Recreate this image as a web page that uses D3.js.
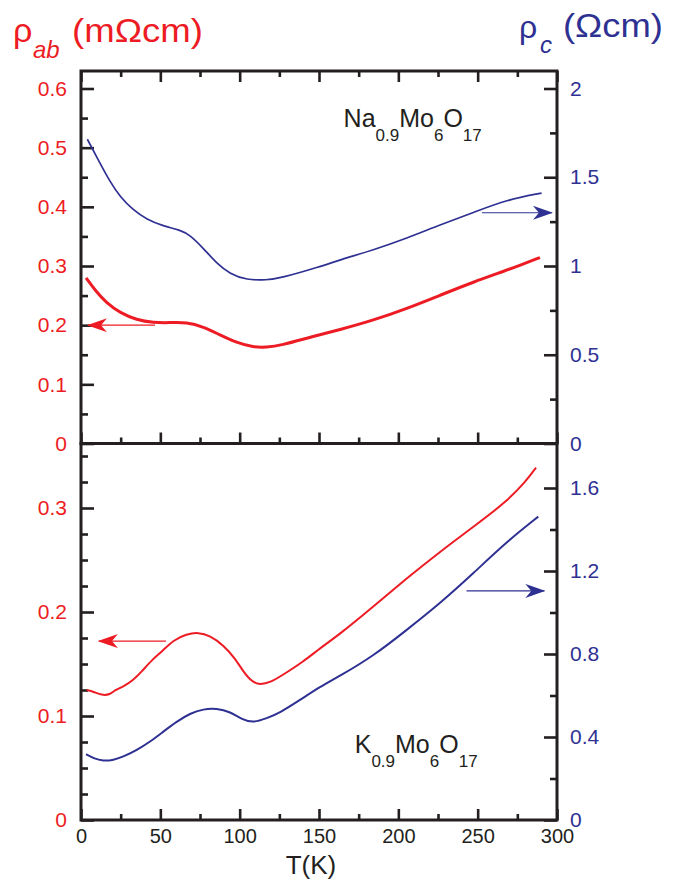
<!DOCTYPE html>
<html><head><meta charset="utf-8">
<script src="https://cdn.jsdelivr.net/npm/d3@7"></script>
<style>body{margin:0;background:#fff}svg{display:block}text{font-family:"Liberation Sans",Arial,Helvetica,sans-serif}</style>
</head><body><svg id="c" width="680" height="884"></svg>
<script>
// ---- data (T in K) ----
const naAbT = [3.2,8.8,16.2,24.6,35.1,45.6,56.1,66.6,77.1,87.6,98.1,108.6,117,125.4,146.4,163.2,184.2,205.3,226.3,247.3,268.3,277.8,289.3];
const naAbV = [0.280,0.2594,0.2369,0.221,0.2087,0.2042,0.2042,0.2053,0.1974,0.1834,0.1704,0.1626,0.1626,0.1653,0.1811,0.1924,0.2082,0.228,0.2505,0.273,0.2928,0.3025,0.3143];
const naCT = [4,12,18.3,24.6,32.9,41.4,51.9,62.4,68.7,77.1,85.5,93.9,104.4,117,125.4,150.6,163.2,184.2,205.3,226.3,247.3,268.3,290.3];
const naCV = [1.714,1.579,1.475,1.39,1.315,1.263,1.225,1.203,1.175,1.10,1.015,0.955,0.921,0.921,0.931,0.996,1.035,1.09,1.156,1.232,1.301,1.373,1.411];
const kAbT = [3.6,7.8,13,18.3,21.4,26.7,33,38.2,44.6,50.9,58.2,66.6,73.9,81.3,89.7,97.1,102.3,107.6,112.8,120.2,125.4,140.1,150.6,163.2,184.2,205.3,226.3,247.3,268.3,280.9,284,286.8];
const kAbV = [0.125,0.1234,0.1199,0.1205,0.125,0.1282,0.1346,0.1426,0.1538,0.1618,0.1731,0.1788,0.1805,0.1772,0.1683,0.1555,0.1426,0.133,0.1298,0.133,0.1378,0.1522,0.1651,0.1788,0.2051,0.2324,0.258,0.282,0.306,0.3269,0.3333,0.3388];
const kCT = [3.2,7.8,14.1,20.4,26.7,35.1,43.5,51.9,60.3,68.7,77.1,85.5,93.9,102.3,108.6,117,125.4,138,150.6,163.2,184.2,205.3,226.3,247.3,268.3,288.2];
const kCV = [0.317,0.297,0.284,0.289,0.305,0.337,0.377,0.426,0.474,0.514,0.535,0.538,0.522,0.482,0.469,0.490,0.517,0.578,0.642,0.694,0.790,0.916,1.044,1.189,1.341,1.462];

const xTicks = [0,50,100,150,200,250,300];
const xMinor = [25,75,125,175,225,275];
const topLeftTicks = [0,0.1,0.2,0.3,0.4,0.5,0.6];
const topLeftMinor = [0.05,0.15,0.25,0.35,0.45,0.55];
const topRightTicks = [0,0.5,1,1.5,2];
const topRightMinor = [0.25,0.75,1.25,1.75];
const botLeftTicks = [0,0.1,0.2,0.3];
const botLeftMinor = [0.025,0.05,0.075,0.125,0.15,0.175,0.225,0.25,0.275,0.325,0.35];
const botRightTicks = [0,0.4,0.8,1.2,1.6];
const botRightMinor = [0.2,0.6,1.0,1.4];

// arrows: T start, T end, value, axis side
const arrowsTop = [{t0:46.6,t1:4.4,v:0.2,side:"L"},{t0:252.7,t1:296.8,v:1.3,side:"R"}];
const arrowsBot = [{t0:53.6,t1:11.3,v:0.172,side:"L"},{t0:243,t1:292,v:1.104,side:"R"}];

const RED = "#ed1c24", BLUE = "#2e3192", INK = "#231f20";
const svg = d3.select("#c");
const L = 81, R = 557;
const x = d3.scaleLinear().domain([0,300]).range([L,R]);
const topP = {y0:71, y1:443.5};
const botP = {y0:443.5, y1:820};
const yTL = d3.scaleLinear().domain([0,0.6]).range([443.5,88.5]);
const yTR = d3.scaleLinear().domain([0,2]).range([443.5,88.5]);
const yBL = d3.scaleLinear().domain([0,0.3]).range([820,508]);
const yBR = d3.scaleLinear().domain([0,1.6]).range([820,488]);

const defs = svg.append("defs");
function marker(id,col){
  defs.append("marker").attr("id",id).attr("viewBox","0 0 20 14").attr("refX",19).attr("refY",7)
    .attr("markerWidth",20).attr("markerHeight",14).attr("markerUnits","userSpaceOnUse").attr("orient","auto")
    .append("path").attr("d","M0,0 L20,7 L0,14 L6,7 Z").attr("fill",col);
}
marker("ar",RED); marker("ab",BLUE);

function styleAxis(g){ g.select(".domain").remove(); g.selectAll("line").attr("stroke",INK).attr("stroke-width",2.6); }
const fmt = d=>String(d);

function yAxes(sL,sR,maj,minL,majR,minR){
  svg.append("g").attr("transform",`translate(${L},0)`).call(d3.axisLeft(sL).tickValues(maj).tickFormat(fmt).tickSize(-13).tickPadding(14)).call(styleAxis)
    .selectAll("text").attr("fill",RED).attr("font-size",21);
  svg.append("g").attr("transform",`translate(${L},0)`).call(d3.axisLeft(sL).tickValues(minL).tickFormat("").tickSize(-7)).call(styleAxis);
  svg.append("g").attr("transform",`translate(${R},0)`).call(d3.axisRight(sR).tickValues(majR).tickFormat(fmt).tickSize(-13).tickPadding(13)).call(styleAxis)
    .selectAll("text").attr("fill",BLUE).attr("font-size",21);
  svg.append("g").attr("transform",`translate(${R},0)`).call(d3.axisRight(sR).tickValues(minR).tickFormat("").tickSize(-7)).call(styleAxis);
}
yAxes(yTL,yTR,topLeftTicks,topLeftMinor,topRightTicks,topRightMinor);
yAxes(yBL,yBR,botLeftTicks,botLeftMinor,botRightTicks,botRightMinor);

function xAx(y,dir,labels){
  const maj = dir==="down" ? d3.axisTop(x) : d3.axisBottom(x);
  svg.append("g").attr("transform",`translate(0,${y})`).call(maj.tickValues(xTicks).tickFormat(labels?fmt:"").tickSize(-11).tickPadding(9)).call(styleAxis)
    .selectAll("text").attr("fill",INK).attr("font-size",20);
  const mn = dir==="down" ? d3.axisTop(x) : d3.axisBottom(x);
  svg.append("g").attr("transform",`translate(0,${y})`).call(mn.tickValues(xMinor).tickFormat("").tickSize(-6)).call(styleAxis);
}
xAx(topP.y0,"down",false);
xAx(topP.y1,"up",false);
xAx(botP.y1,"up",true);

[topP,botP].forEach(p=>svg.append("rect").attr("x",L).attr("y",p.y0).attr("width",R-L).attr("height",p.y1-p.y0)
  .attr("fill","none").attr("stroke",INK).attr("stroke-width",3));

function curve(T,V,ys,col,w){
  const d = T.map((t,i)=>[t,V[i]]);
  svg.append("path").datum(d).attr("fill","none").attr("stroke",col).attr("stroke-width",w).attr("stroke-linejoin","round")
    .attr("d",d3.line().x(p=>x(p[0])).y(p=>ys(p[1])).curve(d3.curveBasis));
}
curve(naCT,naCV,yTR,BLUE,1.7);
curve(naAbT,naAbV,yTL,RED,3);
curve(kAbT,kAbV,yBL,RED,2);
curve(kCT,kCV,yBR,BLUE,2);

function arrows(list,sL,sR){
  list.forEach(a=>{
    const s = a.side==="L"?sL:sR;
    svg.append("line").attr("x1",x(a.t0)).attr("x2",x(a.t1)).attr("y1",s(a.v)).attr("y2",s(a.v))
      .attr("stroke",a.side==="L"?RED:BLUE).attr("stroke-width",1.2)
      .attr("marker-end",a.side==="L"?"url(#ar)":"url(#ab)");
  });
}
arrows(arrowsTop,yTL,yTR);
arrows(arrowsBot,yBL,yBR);

function compound(px,py,parts){
  const t = svg.append("text").attr("x",px).attr("y",py).attr("fill",INK).attr("font-size",25);
  let sub=false;
  parts.forEach(p=>{
    const isSub = p[1];
    const ts = t.append("tspan").text(p[0]);
    if(isSub && !sub){ ts.attr("dy",14).attr("font-size",17); }
    else if(!isSub && sub){ ts.attr("dy",-14); }
    else if(isSub){ ts.attr("font-size",17); }
    sub = isSub;
  });
}
compound(x(165.5),127,[["Na",false],["0.9",true],["Mo",false],["6",true],["O",false],["17",true]]);
compound(x(172.5),753,[["K",false],["0.9",true],["Mo",false],["6",true],["O",false],["17",true]]);

svg.append("text").attr("x",13).attr("y",42).attr("fill",RED).attr("font-size",34).text("ρ");
svg.append("text").attr("x",33).attr("y",58).attr("fill",RED).attr("font-size",24).attr("font-style","italic").text("ab");
svg.append("text").attr("x",72).attr("y",42).attr("fill",RED).attr("font-size",33).attr("textLength",131).attr("lengthAdjust","spacingAndGlyphs").text("(mΩcm)");
svg.append("text").attr("x",519).attr("y",38).attr("fill",BLUE).attr("font-size",32).text("ρ");
svg.append("text").attr("x",540).attr("y",53).attr("fill",BLUE).attr("font-size",24).attr("font-style","italic").text("c");
svg.append("text").attr("x",563).attr("y",37).attr("fill",BLUE).attr("font-size",33).attr("textLength",100).attr("lengthAdjust","spacingAndGlyphs").text("(Ωcm)");
svg.append("text").attr("x",x(150)-8).attr("y",874).attr("fill",INK).attr("font-size",26).attr("text-anchor","middle").text("T(K)");
</script></body></html>
